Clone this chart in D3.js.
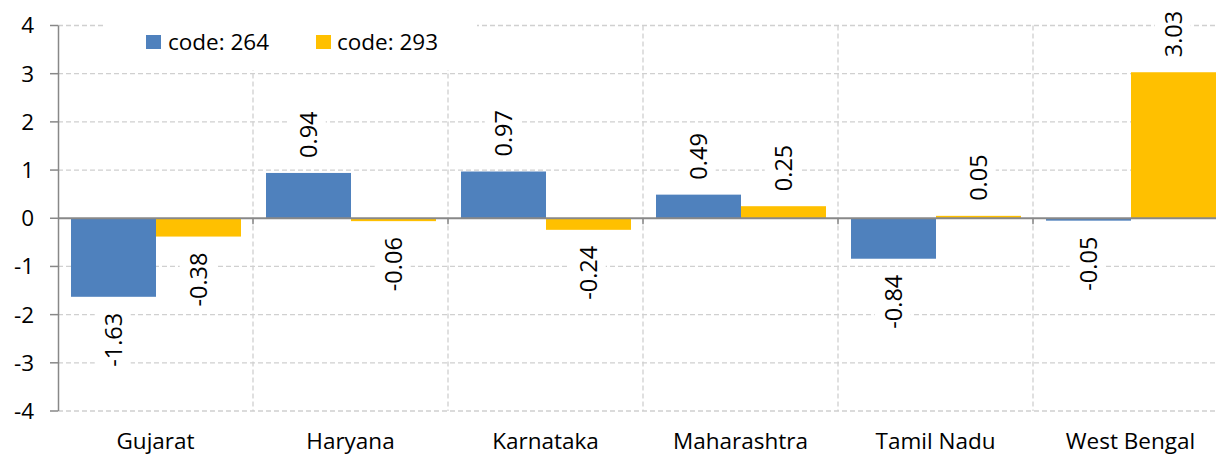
<!doctype html>
<html lang="en">
<head>
  <meta charset="utf-8">
  <script src="https://d3js.org/d3.v7.min.js"></script>
  <title>code 264 vs code 293</title>
  <style>
    body { margin: 0; background: #fff; }
    text { font-family: "Open Sans", "Noto Sans", sans-serif; fill: #000; }
  </style>
</head>
<body>
  <svg id="plot" width="1216" height="457"></svg>
  <script>
    var states = ["Gujarat", "Haryana", "Karnataka", "Maharashtra", "Tamil Nadu", "West Bengal"];
    var series = ["code: 264", "code: 293"];
    var code264 = [-1.63, 0.94, 0.97, 0.49, -0.84, -0.05];
    var code293 = [-0.38, -0.06, -0.24, 0.25, 0.05, 3.03];
    var yTicks = [-4, -3, -2, -1, 0, 1, 2, 3, 4];
    var colors = ["#4f81bd", "#ffc000"];

    var fs = "22.5px";
    var svg = d3.select("#plot");

    var x = d3.scaleBand().domain(states).range([58, 58 + 6 * 195]);
    var xs = d3.scaleBand().domain(series).range([13, 183]);
    var y = d3.scaleLinear().domain([-4, 4]).range([411, 25.5]);

    // horizontal gridlines
    svg.append("g").selectAll("line").data(yTicks.filter(d => d != 0)).enter().append("line")
      .attr("x1", 58).attr("x2", 1216)
      .attr("y1", d => y(d)).attr("y2", d => y(d))
      .style("stroke", "#d0d0d0").style("stroke-width", 1.3).style("stroke-dasharray", "5,3");

    // vertical gridlines
    svg.append("g").selectAll("line").data(states.slice(1)).enter().append("line")
      .attr("x1", d => x(d)).attr("x2", d => x(d))
      .attr("y1", y(4)).attr("y2", y(-4))
      .style("stroke", "#d0d0d0").style("stroke-width", 1.3).style("stroke-dasharray", "5,3");

    // bars
    var rows = states.map((s, i) => ({ state: s, vals: [code264[i], code293[i]] }));
    var groups = svg.append("g").selectAll("g").data(rows).enter().append("g")
      .attr("transform", d => "translate(" + x(d.state) + ",0)");

    groups.selectAll("rect").data(d => d.vals.map((v, j) => ({ key: series[j], v: v, j: j })))
      .enter().append("rect")
      .attr("x", d => xs(d.key))
      .attr("width", xs.bandwidth())
      .attr("y", d => y(Math.max(0, d.v)))
      .attr("height", d => Math.abs(y(d.v) - y(0)))
      .style("fill", d => colors[d.j]);

    // zero line + ticks
    svg.append("line").attr("x1", 58).attr("x2", 1216).attr("y1", y(0)).attr("y2", y(0))
      .style("stroke", "#888").style("stroke-width", 2);
    svg.append("g").selectAll("line").data(states.slice(1)).enter().append("line")
      .attr("x1", d => x(d)).attr("x2", d => x(d))
      .attr("y1", y(0)).attr("y2", y(0) + 6)
      .style("stroke", "#888").style("stroke-width", 1.5);

    // y axis
    svg.append("line").attr("x1", 58.5).attr("x2", 58.5).attr("y1", y(4)).attr("y2", y(-4))
      .style("stroke", "#888").style("stroke-width", 1.5);
    svg.append("g").selectAll("line").data(yTicks).enter().append("line")
      .attr("x1", 50).attr("x2", 58)
      .attr("y1", d => y(d)).attr("y2", d => y(d))
      .style("stroke", "#888").style("stroke-width", 1.5);
    svg.append("g").selectAll("text").data(yTicks).enter().append("text")
      .attr("x", 34).attr("y", d => y(d)).attr("dy", "0.35em")
      .style("text-anchor", "end").style("font-size", fs)
      .text(d => d);

    // category labels
    svg.append("g").selectAll("text").data(states).enter().append("text")
      .attr("x", d => x(d) + x.bandwidth() / 2).attr("y", 449)
      .style("text-anchor", "middle").style("font-size", fs)
      .text(d => d);

    // data labels (rotated, white background)
    groups.each(function (row) {
      var g = d3.select(this);
      row.vals.forEach(function (v, j) {
        var cx = xs(series[j]) + xs.bandwidth() / 2;
        var ay = v >= 0 ? y(v) - 15 : y(v) + 16;
        var lg = g.append("g").attr("transform", "translate(" + cx + "," + ay + ") rotate(-90)");
        var bg = lg.append("rect").style("fill", "#fff");
        var t = lg.append("text")
          .attr("x", 0).attr("y", 0).attr("dy", "0.35em")
          .style("text-anchor", v >= 0 ? "start" : "end")
          .style("font-size", "23.5px")
          .text(v.toFixed(2));
        var b = t.node().getBBox();
        bg.attr("x", b.x - 6).attr("y", b.y - 2).attr("width", b.width + 12).attr("height", b.height + 4);
      });
    });

    // legend
    var legend = svg.append("g");
    legend.append("rect").attr("x", 103).attr("y", 0).attr("width", 374).attr("height", 70).style("fill", "#fff");
    legend.append("rect").attr("x", 146).attr("y", 35).attr("width", 15).attr("height", 14).style("fill", colors[0]);
    legend.append("text").attr("x", 168).attr("y", 42).attr("dy", "0.35em").style("font-size", fs).text(series[0]);
    legend.append("rect").attr("x", 316).attr("y", 35).attr("width", 15).attr("height", 14).style("fill", colors[1]);
    legend.append("text").attr("x", 337).attr("y", 42).attr("dy", "0.35em").style("font-size", fs).text(series[1]);
  </script>
</body>
</html>
